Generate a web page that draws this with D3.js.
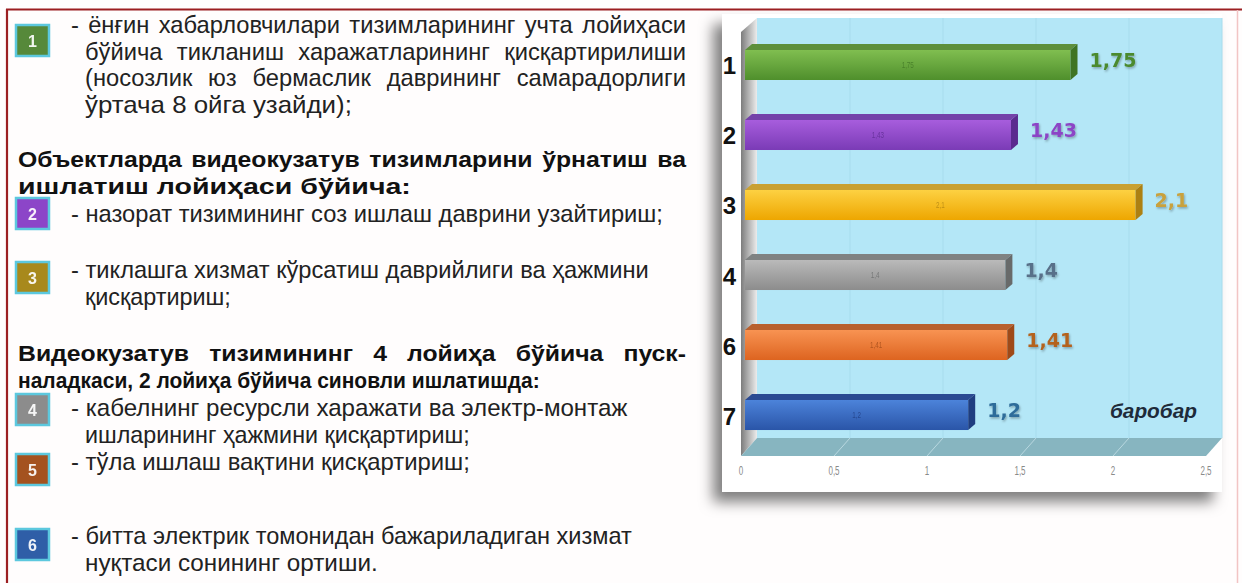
<!DOCTYPE html>
<html>
<head>
<meta charset="utf-8">
<script src="https://cdn.jsdelivr.net/npm/d3@7"></script>
<style>
	html, body { margin: 0; padding: 0; background: #fff; }
	svg { display: block; }
</style>
</head>
<body>
<div id="chart"></div>
<script>
// chart data
const categories = ["1", "2", "3", "4", "6", "7"];
const values = [1.75, 1.43, 2.1, 1.4, 1.41, 1.2];
const tickValues = [0, 0.5, 1, 1.5, 2, 2.5];
const noteText = "баробар";

// legend boxes on the left
const boxLabels = ["1", "2", "3", "4", "5", "6"];

// text blocks (strings only)
const para1 = [
	"- ёнғин хабарловчилари тизимларининг учта лойиҳаси",
	"бўйича тикланиш харажатларининг қисқартирилиши",
	"(носозлик юз бермаслик даврининг самарадорлиги",
	"ўртача 8 ойга узайди);"
];
const head1 = [
	"Объектларда видеокузатув тизимларини ўрнатиш ва",
	"ишлатиш лойиҳаси бўйича:"
];
const item2 = ["- назорат тизимининг соз ишлаш даврини узайтириш;"];
const item3 = ["- тиклашга хизмат кўрсатиш даврийлиги ва ҳажмини", "қисқартириш;"];
const head2 = [
	"Видеокузатув тизимининг 4 лойиҳа бўйича пуск-",
	"наладкаси, 2 лойиҳа бўйича синовли ишлатишда:"
];
const item4 = ["- кабелнинг ресурсли харажати ва электр-монтаж", "ишларининг ҳажмини қисқартириш;"];
const item5 = ["- тўла ишлаш вақтини қисқартириш;"];
const item6 = ["- битта электрик томонидан бажариладиган хизмат", "нуқтаси сонининг ортиши."];

// colours
const boxColors = ["#56893a", "#8c45c8", "#a8891c", "#8c8c8c", "#a4521f", "#2f5ea7"];
const barLight = ["#80be50", "#a75ddd", "#fdd142", "#bababa", "#f89352", "#4c83da"];
const barDark = ["#4f8f2c", "#7a3bb6", "#eea600", "#8c8c8c", "#dd6420", "#2a55a8"];
const barTop = ["#5e8f3b", "#7442a9", "#c9a032", "#7f8282", "#b8602e", "#2b4a92"];
const barSide = ["#3f7424", "#5b2a8f", "#ad8012", "#686a6a", "#9f4a18", "#1f3d80"];
const labelColors = ["#4b8a2f", "#8c45c6", "#c9a13c", "#587089", "#b4621e", "#2e6c9a"];

const width = 1242;
const height = 583;
const fmt = d3.formatLocale({ decimal: ",", thousands: " ", grouping: [3], currency: ["", ""] }).format("");

const svg = d3
	.select("#chart")
	.append("svg")
	.attr("width", width)
	.attr("height", height)
	.attr("viewBox", `0 0 ${width} ${height}`);

const defs = svg.append("defs");

const shadow = defs
	.append("filter")
	.attr("id", "panel-shadow")
	.attr("x", "-20%")
	.attr("y", "-20%")
	.attr("width", "140%")
	.attr("height", "140%");
shadow
	.append("feDropShadow")
	.attr("dx", -9)
	.attr("dy", 10)
	.attr("stdDeviation", 7)
	.attr("flood-color", "#000")
	.attr("flood-opacity", 0.5);

const txtShadow = defs.append("filter").attr("id", "txt-shadow");
txtShadow
	.append("feDropShadow")
	.attr("dx", 1)
	.attr("dy", 1.5)
	.attr("stdDeviation", 0.8)
	.attr("flood-color", "#000")
	.attr("flood-opacity", 0.3);

barLight.forEach((c, i) => {
	const g = defs
		.append("linearGradient")
		.attr("id", `bar-grad-${i}`)
		.attr("x1", 0).attr("y1", 0).attr("x2", 0).attr("y2", 1);
	g.append("stop").attr("offset", "0%").attr("stop-color", c);
	g.append("stop").attr("offset", "100%").attr("stop-color", barDark[i]);
});

const wallGrad = defs
	.append("linearGradient")
	.attr("id", "left-wall")
	.attr("x1", 0).attr("y1", 0).attr("x2", 1).attr("y2", 0);
wallGrad.append("stop").attr("offset", "0%").attr("stop-color", "#7c7c7c");
wallGrad.append("stop").attr("offset", "45%").attr("stop-color", "#b0b0b0");
wallGrad.append("stop").attr("offset", "100%").attr("stop-color", "#ececec");

//background + frame
svg.append("rect").attr("width", width).attr("height", height).attr("fill", "#fffdfd");
svg.append("rect").attr("width", width).attr("height", 9).attr("fill", "#ffffff");
svg.append("line")
	.attr("x1", 6).attr("x2", width).attr("y1", 9.5).attr("y2", 9.5)
	.attr("stroke", "#9c1f22").attr("stroke-width", 2.2);
svg.append("line")
	.attr("x1", 7).attr("x2", 7).attr("y1", 9).attr("y2", height)
	.attr("stroke", "#9c1f22").attr("stroke-width", 2.2);
svg.append("line")
	.attr("x1", 1237.5).attr("x2", 1237.5).attr("y1", 10).attr("y2", height)
	.attr("stroke", "#f2c4c4").attr("stroke-width", 1.5);

// helper: draw a text squeezed to a given width, stretched vertically by sy
const squeeze = (parent, str, sx, by, w, attrs, sy) => {
	const t = parent.append("text").attr("x", 0).attr("y", 0).text(str);
	Object.entries(attrs).forEach(([k, v]) => t.attr(k, v));
	const nat = t.node().getComputedTextLength();
	t.attr("transform", `translate(${sx},${by}) scale(${w / nat},${sy || 1})`);
	return t;
};

// ---------- chart panel ----------
const panel = svg.append("g");
panel
	.append("rect")
	.attr("x", 722)
	.attr("y", 14)
	.attr("width", 500)
	.attr("height", 478)
	.attr("fill", "#ffffff")
	.attr("filter", "url(#panel-shadow)");

const x = d3.scaleLinear().domain([0, 2.5]).range([745, 1210]);
const y = d3
	.scaleBand()
	.domain(categories)
	.range([10, 470])
	.paddingInner(0.571)
	.paddingOuter(0.571);

const backDx = 12; // wall offset from axis
const frontDx = -4;
const floorTop = 438;
const floorBottom = 456;
const wallTop = 18;

// back wall
panel
	.append("rect")
	.attr("x", x(0) + backDx)
	.attr("y", wallTop)
	.attr("width", x(2.5) - x(0))
	.attr("height", floorTop - wallTop)
	.attr("fill", "#b4e7f7");

panel
	.selectAll(".wall-grid")
	.data(tickValues.slice(1))
	.enter()
	.append("line")
	.attr("x1", d => x(d) + backDx)
	.attr("x2", d => x(d) + backDx)
	.attr("y1", wallTop)
	.attr("y2", floorTop)
	.attr("stroke", "#a7dced")
	.attr("stroke-width", 1);

// left wall
panel
	.append("polygon")
	.attr("points", [
		[x(0) + frontDx, floorBottom],
		[x(0) + backDx, floorTop],
		[x(0) + backDx, wallTop],
		[x(0) + frontDx, wallTop + 14]
	].join(" "))
	.attr("fill", "url(#left-wall)");

// floor
panel
	.append("polygon")
	.attr("points", [
		[x(0) + frontDx, floorBottom],
		[x(2.5) + frontDx, floorBottom],
		[x(2.5) + backDx, floorTop],
		[x(0) + backDx, floorTop]
	].join(" "))
	.attr("fill", "#87b5c0");

panel
	.selectAll(".floor-grid")
	.data(tickValues.slice(1, -1))
	.enter()
	.append("line")
	.attr("x1", d => x(d) + frontDx)
	.attr("y1", floorBottom)
	.attr("x2", d => x(d) + backDx)
	.attr("y2", floorTop)
	.attr("stroke", "#b9d8e0")
	.attr("stroke-width", 1);

// tick labels
panel
	.selectAll(".tick-label")
	.data(tickValues)
	.enter()
	.append("text")
	.attr("x", 0)
	.attr("y", 0)
	.attr("text-anchor", "middle")
	.attr("font-family", "'Liberation Sans', sans-serif")
	.attr("font-size", 10)
	.attr("transform", d => `translate(${x(d) + frontDx},475) scale(0.8,1.25)`)
	.attr("fill", "#8a8a8a")
	.text(d => fmt(d));

// bars
const dx = 7;
const dy = 6;
const bh = y.bandwidth();

const bars = panel
	.selectAll(".bar")
	.data(values)
	.enter()
	.append("g")
	.attr("class", "bar");

bars
	.append("rect")
	.attr("x", x(0))
	.attr("y", (d, i) => y(categories[i]))
	.attr("width", d => x(d) - x(0))
	.attr("height", bh)
	.attr("fill", (d, i) => `url(#bar-grad-${i})`);

bars
	.append("polygon")
	.attr("points", (d, i) => {
		const t = y(categories[i]);
		return [[x(0), t], [x(0) + dx, t - dy], [x(d) + dx, t - dy], [x(d), t]].join(" ");
	})
	.attr("fill", (d, i) => barTop[i]);

bars
	.append("polygon")
	.attr("points", (d, i) => {
		const t = y(categories[i]);
		return [[x(d), t], [x(d) + dx, t - dy], [x(d) + dx, t + bh - dy], [x(d), t + bh]].join(" ");
	})
	.attr("fill", (d, i) => barSide[i]);

// small label inside bar
bars
	.append("text")
	.attr("x", 0)
	.attr("y", 0)
	.attr("text-anchor", "middle")
	.attr("transform", (d, i) => `translate(${(x(0) + x(d)) / 2},${y(categories[i]) + bh / 2 + 3}) scale(0.7,1)`)
	.attr("font-family", "'Liberation Sans', sans-serif")
	.attr("font-size", 9)
	.attr("fill", (d, i) => barSide[i])
	.attr("opacity", 0.75)
	.text(d => fmt(d));

// value label
bars
	.append("text")
	.attr("x", d => x(d) + dx + 12)
	.attr("y", (d, i) => y(categories[i]) + bh / 2 - 5)
	.attr("dominant-baseline", "central")
	.attr("font-family", "'DejaVu Sans', Verdana, sans-serif")
	.attr("font-weight", "bold")
	.attr("font-size", 19)
	.attr("fill", (d, i) => labelColors[i])
	.attr("filter", "url(#txt-shadow)")
	.text(d => fmt(d));

// category labels
panel
	.selectAll(".cat-label")
	.data(categories)
	.enter()
	.append("text")
	.attr("x", 736)
	.attr("y", d => y(d) + bh / 2 + 1)
	.attr("dominant-baseline", "central")
	.attr("text-anchor", "end")
	.attr("font-family", "'Liberation Sans', Arial, sans-serif")
	.attr("font-weight", "bold")
	.attr("font-size", 24)
	.attr("fill", "#111")
	.text(d => d);

squeeze(panel, noteText, 1110, y(categories[categories.length - 1]) + bh / 2 + 3, 87, {
	"font-family": "'Liberation Sans', Arial, sans-serif",
	"font-weight": "bold",
	"font-style": "italic",
	"font-size": 20,
	fill: "#1e2b3a"
}, 1.05);

// ---------- left text ----------
const textG = svg.append("g");
const FONT = "'Liberation Sans', Arial, sans-serif";
const FS = 20;
const SY = { true: 1.14, false: 1.2 };

// layout: first-line x, next-lines x, first baseline, right edge per line, justified flags
const blocks = [
	{ lines: para1, x0: 71, x1: 85, y: 33, ends: [686, 686, 686, 352], just: [1, 1, 1, 0], bold: false },
	{ lines: head1, x0: 18, x1: 18, y: 167, ends: [686, 411], just: [1, 0], bold: true },
	{ lines: item2, x0: 71, x1: 85, y: 222, ends: [663], just: [0], bold: false },
	{ lines: item3, x0: 71, x1: 85, y: 278, ends: [649, 231], just: [0, 0], bold: false },
	{ lines: head2, x0: 18, x1: 18, y: 361, ends: [686, 540], just: [1, 0], bold: true },
	{ lines: item4, x0: 71, x1: 85, y: 416, ends: [628, 470], just: [0, 0], bold: false },
	{ lines: item5, x0: 71, x1: 85, y: 470, ends: [470], just: [0], bold: false },
	{ lines: item6, x0: 71, x1: 85, y: 544, ends: [632, 378], just: [0, 0], bold: false }
];
const lineStep = 26.6;

const attrsFor = bold => ({
	"font-family": FONT,
	"font-size": FS,
	"font-weight": bold ? "bold" : "normal",
	fill: bold ? "#111" : "#222"
});

const natural = (s, bold) => {
	const t = textG.append("text").text(s);
	Object.entries(attrsFor(bold)).forEach(([k, v]) => t.attr(k, v));
	const n = t.node().getComputedTextLength();
	t.remove();
	return n;
};

// condense ratio from the lines that are not justified
const ratios = { true: [], false: [] };
blocks.forEach(b => b.lines.forEach((l, i) => {
	const sx = i === 0 ? b.x0 : b.x1;
	if (!b.just[i]) ratios[b.bold].push((b.ends[i] - sx) / natural(l, b.bold));
}));
const cond = { true: d3.median(ratios.true), false: d3.median(ratios.false) };

blocks.forEach(b => {
	b.lines.forEach((l, i) => {
		const sx = i === 0 ? b.x0 : b.x1;
		const by = b.y + i * lineStep;
		const attrs = attrsFor(b.bold);
		if (!b.just[i]) {
			squeeze(textG, l, sx, by, b.ends[i] - sx, attrs, SY[b.bold]);
		} else {
			const words = l.split(" ");
			const ws = words.map(w => natural(w, b.bold) * cond[b.bold]);
			const gap = (b.ends[i] - sx - d3.sum(ws)) / (words.length - 1);
			let cx = sx;
			words.forEach((w, k) => {
				squeeze(textG, w, cx, by, ws[k], attrs, SY[b.bold]);
				cx += ws[k] + gap;
			});
		}
	});
});

// numbered boxes
const boxTops = [25, 198, 262, 394, 454, 529];
const boxes = textG
	.selectAll(".num-box")
	.data(boxLabels)
	.enter()
	.append("g");

boxes
	.append("rect")
	.attr("x", 16)
	.attr("y", (d, i) => boxTops[i])
	.attr("width", 33)
	.attr("height", 31)
	.attr("fill", (d, i) => boxColors[i])
	.attr("stroke", "#5cc8de")
	.attr("stroke-width", 2.5);

boxes
	.append("text")
	.attr("x", 32.5)
	.attr("y", (d, i) => boxTops[i] + 16)
	.attr("dominant-baseline", "central")
	.attr("text-anchor", "middle")
	.attr("font-family", "'Liberation Sans', Arial, sans-serif")
	.attr("font-weight", "bold")
	.attr("font-size", 16)
	.attr("fill", "#ffffff")
	.attr("opacity", 0.92)
	.text(d => d);
</script>
</body>
</html>
